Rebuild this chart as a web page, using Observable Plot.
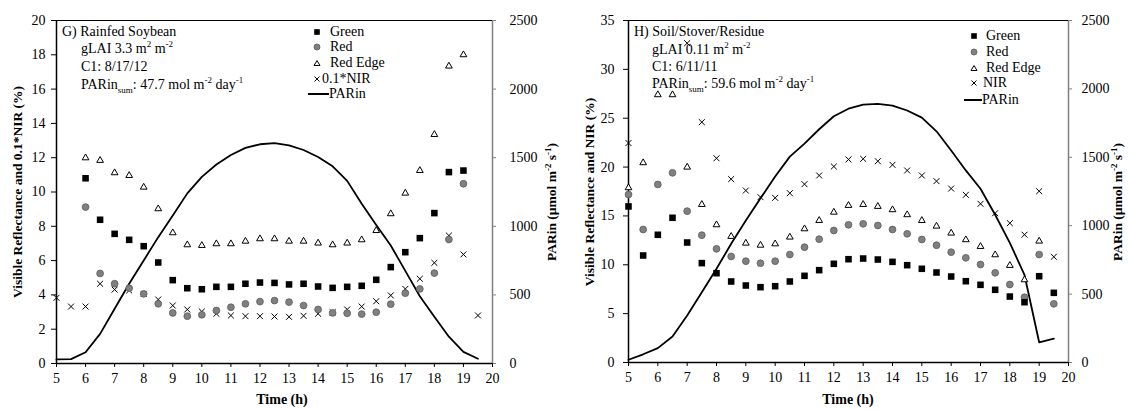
<!DOCTYPE html>
<html><head><meta charset="utf-8">
<script src="https://cdn.jsdelivr.net/npm/d3@7"></script>
<script src="https://cdn.jsdelivr.net/npm/@observablehq/plot@0.6"></script>
<style>
body{margin:0;background:#fff;font-family:"Liberation Serif","Times New Roman",serif;}
#wrap{display:flex;width:1128px;height:409px;overflow:hidden}
.panel{position:relative;width:564px;height:409px;}
.panel svg{display:block;font-family:"Liberation Serif","Times New Roman",serif !important;}
.panel svg text{font-family:"Liberation Serif","Times New Roman",serif !important;font-size:14px;}
.ab{position:absolute;white-space:nowrap;font-size:14px;line-height:16px;color:#000;font-family:"Liberation Serif","Times New Roman",serif}
.vt{position:absolute;font-weight:bold;font-size:13.5px;white-space:nowrap;line-height:14px;font-family:"Liberation Serif","Times New Roman",serif;transform:translate(-50%,-50%) rotate(-90deg);}
.ht{position:absolute;font-weight:bold;font-size:14px;white-space:nowrap;line-height:14px;font-family:"Liberation Serif","Times New Roman",serif;transform:translate(-50%,-50%);}
sup,sub{font-size:9px;line-height:0}
</style></head><body><div id="wrap"></div>
<script>
// ---- shared data ----
const hours = [5,5.5,6,6.5,7,7.5,8,8.5,9,9.5,10,10.5,11,11.5,12,12.5,13,13.5,14,14.5,15,15.5,16,16.5,17,17.5,18,18.5,19,19.5];
const xTicks = [5,6,7,8,9,10,11,12,13,14,15,16,17,18,19,20];
const xDomain = [5,20];
const parTicks = [0,500,1000,1500,2000,2500];
const parMax = 2500;

// ---- G) Rainfed Soybean ----
const yTicksG = [0,2,4,6,8,10,12,14,16,18,20];
const greenG = [null,null,10.8,8.38,7.56,7.21,6.84,5.89,4.86,4.39,4.33,4.47,4.47,4.65,4.72,4.70,4.61,4.65,4.49,4.41,4.47,4.53,4.88,5.62,6.49,7.31,8.77,11.16,11.25,null];
const redG = [null,null,9.12,5.25,4.65,4.39,4.06,3.48,2.95,2.76,2.84,3.09,3.28,3.48,3.61,3.67,3.58,3.38,3.15,2.95,2.93,2.88,2.99,3.46,4.10,4.35,5.27,7.23,10.48,null];
const edgeG = [null,null,11.99,11.84,11.12,10.96,10.28,9.02,7.62,6.92,6.88,6.98,6.98,7.13,7.27,7.27,7.13,7.13,7.02,6.92,7.02,7.21,7.75,8.73,9.93,11.25,13.35,17.34,18.0,null];
const nirG = [3.83,3.32,3.32,4.65,4.31,4.26,4.06,3.73,3.38,3.15,3.03,2.90,2.80,2.76,2.76,2.74,2.72,2.78,2.90,2.99,3.15,3.32,3.63,3.97,4.35,4.94,5.87,7.46,6.36,2.80];
const parG = [30,32,82,216,399,581,751,921,1079,1240,1360,1450,1520,1572,1598,1606,1590,1556,1505,1437,1331,1165,1010,860,675,490,340,195,85,35];

// ---- H) Soil/Stover/Residue ----
const yTicksH = [0,5,10,15,20,25,30,35];
const greenH = [15.97,10.95,13.07,14.81,12.28,10.17,9.14,8.29,7.88,7.71,7.81,8.29,8.87,9.45,10.10,10.57,10.64,10.54,10.30,9.96,9.59,9.21,8.80,8.32,7.95,7.44,6.75,6.17,8.83,7.13];
const redH = [17.19,13.61,18.22,19.41,15.49,13.03,11.63,10.85,10.37,10.16,10.37,11.05,11.80,12.62,13.51,14.09,14.19,14.02,13.61,13.17,12.59,12.00,11.29,10.71,10.03,9.18,7.98,6.68,11.05,6.0];
const edgeH = [17.88,20.44,27.4,27.4,19.99,16.17,14.09,12.90,12.21,12.00,12.14,12.83,13.68,14.53,15.38,16.07,16.17,15.97,15.63,15.12,14.53,13.95,13.24,12.56,11.87,11.02,9.93,8.46,12.42,null];
const nirH = [22.46,null,null,null,32.68,24.6,20.9,18.77,17.6,16.92,16.85,17.33,18.25,19.14,20.06,20.78,20.84,20.6,20.23,19.65,19.14,18.56,17.8,17.16,16.24,15.28,14.26,13.08,17.53,10.82];
const parH = [20,60,105,190,343,514,685,868,1038,1200,1360,1505,1600,1705,1800,1855,1885,1891,1878,1842,1790,1690,1550,1404,1270,1080,875,640,148,175];

function makePlot(cfg){
  const k = cfg.yMax / parMax;
  const rows = hours.map((t,i)=>({t, green:cfg.green[i], red:cfg.red[i], edge:cfg.edge[i], nir:cfg.nir[i], par:cfg.par[i]}));
  return Plot.plot({
    width:564, height:409,
    marginLeft:cfg.ml, marginRight:cfg.mr, marginTop:cfg.mt, marginBottom:cfg.mb,
    style:{fontFamily:"Liberation Serif", fontSize:"14px", color:"#000", background:"#fff", overflow:"visible"},
    x:{domain:xDomain},
    y:{domain:[0,cfg.yMax]},
    marks:[
      Plot.axisX(xTicks,{tickSize:4,tickPadding:6,label:null,fontSize:14}),
      Plot.axisY(cfg.yTicks,{anchor:"left",tickSize:5,tickPadding:cfg.lpad,label:null,fontSize:14}),
      Plot.axisY(parTicks.map(v=>v*k),{anchor:"right",tickSize:3,tickPadding:cfg.rpad,label:null,stroke:"#808080",fill:"#000",fontSize:14,tickFormat:v=>String(Math.round(v/k))}),
      Plot.ruleX([xDomain[1]],{stroke:"#808080",strokeWidth:1.5}),
      Plot.ruleX([xDomain[0]],{stroke:"#000",strokeWidth:1.5}),
      Plot.ruleY([0],{stroke:"#000",strokeWidth:1.5}),
      Plot.ruleY([cfg.yMax],{stroke:"#000",strokeWidth:1}),
      Plot.line(rows,{x:"t",y:d=>d.par*k,stroke:"#000",strokeWidth:1.8}),
      Plot.dot(rows,{x:"t",y:"edge",symbol:"triangle",r:2.5,fill:"#fff",stroke:"#000",strokeWidth:1}),
      Plot.dot(rows,{x:"t",y:"nir",symbol:"times",r:2.8,stroke:"#000",strokeWidth:1}),
      Plot.dot(rows,{x:"t",y:"red",symbol:"circle",r:3.4,fill:"#808080",stroke:"#5a5a5a",strokeWidth:0.8}),
      Plot.dot(rows,{x:"t",y:"green",symbol:"square",r:3.7,fill:"#000"})
    ]
  });
}

function addDiv(parent, cls, x, y, html){
  const d = document.createElement("div");
  d.className = cls; d.innerHTML = html;
  d.style.left = x+"px"; d.style.top = y+"px";
  parent.appendChild(d); return d;
}
function text(parent, x, cy, html){ return addDiv(parent,"ab",x,cy-8,html); }
function symbolSvg(type){
  const s = {
    square:'<rect x="3.2" y="3.2" width="5.6" height="5.6" fill="#000"/>',
    circle:'<circle cx="6" cy="6" r="3" fill="#808080" stroke="#5a5a5a" stroke-width="0.8"/>',
    triangle:'<path d="M3,8.5 L6,3.5 L9,8.5 Z" fill="#fff" stroke="#000" stroke-width="1"/>',
    times:'<path d="M3.5,3.5 L8.5,8.5 M8.5,3.5 L3.5,8.5" stroke="#000" stroke-width="1"/>'
  }[type];
  return '<svg width="12" height="12" style="position:absolute;left:0;top:0">'+s+'</svg>';
}
function legend(parent, mx, tx, ys, labels, lineX0, lineX1, lineTx){
  const types = ["square","circle","triangle","times"];
  for(let i=0;i<4;i++){
    const d = addDiv(parent,"ab",mx-6,ys[i]-6,symbolSvg(types[i]));
    d.style.width="12px"; d.style.height="12px";
    text(parent, tx[i], ys[i], labels[i]);
  }
  const ln = document.createElement("div");
  ln.style.cssText = `position:absolute;left:${lineX0}px;top:${ys[4]-0.9}px;width:${lineX1-lineX0}px;height:1.8px;background:#000`;
  parent.appendChild(ln);
  text(parent, lineTx, ys[4], labels[4]);
}

const wrap = document.getElementById("wrap");

// Left panel
const pG = document.createElement("div"); pG.className="panel"; wrap.appendChild(pG);
pG.appendChild(makePlot({green:greenG,red:redG,edge:edgeG,nir:nirG,par:parG,yMax:20,yTicks:yTicksG,ml:56,mr:72,mt:20,mb:46,lpad:6,rpad:14}));
text(pG, 62, 32, "G) Rainfed Soybean");
text(pG, 81, 49, "gLAI 3.3 m<sup>2</sup> m<sup>-2</sup>");
text(pG, 81, 67, "C1: 8/17/12");
text(pG, 81, 85, "PARin<sub>sum</sub>: 47.7 mol m<sup>-2</sup> day<sup>-1</sup>");
legend(pG, 316.5, [330,330,330,322], [31.7,47.3,63.3,79,94.3], ["Green","Red","Red Edge","0.1*NIR","PARin"], 308, 329, 329);
addDiv(pG,"vt",18,192,"Visible Reflectance and 0.1*NIR (%)");
addDiv(pG,"vt",552,202,"PARin (µmol m<sup>-2</sup> s<sup>-1</sup>)");
addDiv(pG,"ht",282,400,"Time (h)");

// Right panel
const pH = document.createElement("div"); pH.className="panel"; wrap.appendChild(pH);
pH.appendChild(makePlot({green:greenH,red:redH,edge:edgeH,nir:nirH,par:parH,yMax:35,yTicks:yTicksH,ml:64,mr:60,mt:20,mb:47,lpad:9,rpad:10}));
text(pH, 70, 32, "H) Soil/Stover/Residue");
text(pH, 88, 50, "gLAI 0.11 m<sup>2</sup> m<sup>-2</sup>");
text(pH, 88, 67, "C1: 6/11/11");
text(pH, 88, 84, "PARin<sub>sum</sub>: 59.6 mol m<sup>-2</sup> day<sup>-1</sup>");
legend(pH, 409.5, [422,422,422,419], [35.7,52.3,68.3,83.3,100], ["Green","Red","Red Edge","NIR","PARin"], 400, 418, 418);
addDiv(pH,"vt",26,192,"Visible Reflectance and NIR (%)");
addDiv(pH,"vt",554,202,"PARin (µmol m<sup>-2</sup> s<sup>-1</sup>)");
addDiv(pH,"ht",284,400,"Time (h)");
</script></body></html>
